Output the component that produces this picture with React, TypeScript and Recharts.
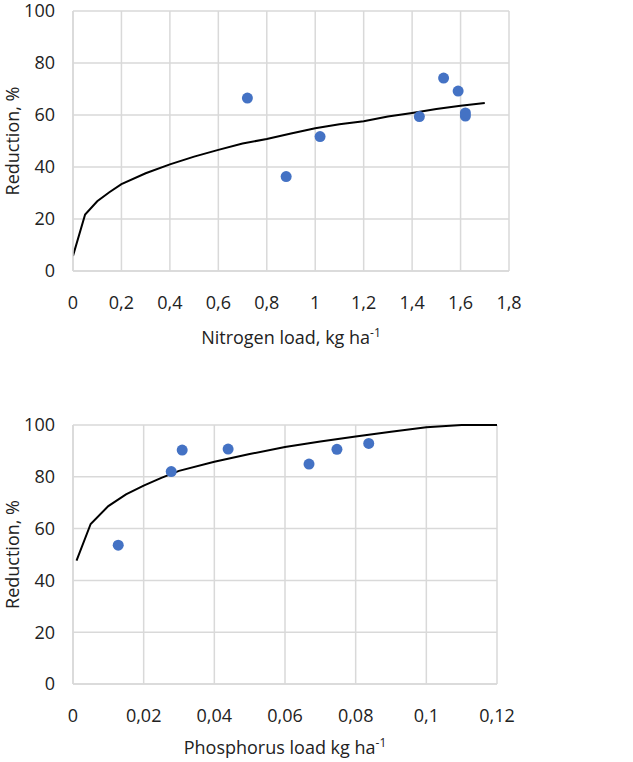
import React from 'react';
import { ComposedChart, Scatter, Line, XAxis, YAxis, CartesianGrid } from 'recharts';

const nitrogenLoad = [0.72, 0.88, 1.02, 1.43, 1.53, 1.59, 1.62, 1.62];
const nitrogenReduction = [66.5, 36.3, 51.7, 59.4, 74.2, 69.2, 59.6, 60.8];
const nitrogenFitLoad = [0, 0.05, 0.1, 0.15, 0.2, 0.3, 0.4, 0.5, 0.6, 0.7, 0.8, 0.9, 1.0, 1.1, 1.2, 1.3, 1.4, 1.5, 1.6, 1.7];
const nitrogenFit = [5.8, 21.7, 26.8, 30.3, 33.4, 37.6, 41, 44, 46.6, 49, 50.8, 52.9, 54.9, 56.4, 57.6, 59.4, 60.8, 62.3, 63.6, 64.6];
const nitrogenTicks = [0, 0.2, 0.4, 0.6, 0.8, 1, 1.2, 1.4, 1.6, 1.8];

const phosphorusLoad = [0.0128, 0.0278, 0.0309, 0.0439, 0.0668, 0.0747, 0.0837];
const phosphorusReduction = [53.6, 82, 90.3, 90.7, 84.9, 90.6, 92.9];
const phosphorusFitLoad = [0.001, 0.005, 0.01, 0.015, 0.02, 0.025, 0.03, 0.04, 0.05, 0.06, 0.07, 0.08, 0.09, 0.1, 0.11, 0.12];
const phosphorusFit = [47.6, 61.8, 68.7, 73.2, 76.6, 79.6, 82.3, 85.8, 88.8, 91.5, 93.6, 95.6, 97.4, 99.1, 100, 100];
const phosphorusTicks = [0, 0.02, 0.04, 0.06, 0.08, 0.1, 0.12];

const reductionTicks = [0, 20, 40, 60, 80, 100];

const FONT = '"Open Sans", sans-serif';
const GRID = '#d9d9d9';
const DOT = '#4472C4';
const TEXT = '#222222';
const FS = 18;

const comma = (v: number) => String(v).replace('.', ',');

const AxisTitle = ({ text, x, y }: { text: string; x: number; y: number }) => (
  <text x={x} y={y} textAnchor="middle" fontFamily={FONT} fontSize={FS} fill={TEXT}>
    <tspan>{text}</tspan>
    <tspan dy={-7} fontSize={12}>-1</tspan>
  </text>
);

const YTitle = ({ x, y }: { x: number; y: number }) => (
  <text
    x={x}
    y={y}
    transform={`rotate(-90, ${x}, ${y})`}
    textAnchor="middle"
    dominantBaseline="central"
    fontFamily={FONT}
    fontSize={FS}
    fill={TEXT}
  >
    Reduction, %
  </text>
);

interface PanelProps {
  load: number[];
  reduction: number[];
  fitLoad: number[];
  fit: number[];
  ticks: number[];
  xMax: number;
  width: number;
  height: number;
  margin: { top: number; right: number; bottom: number; left: number };
  axisHeight: number;
  title: string;
  titleY: number;
  tickGap: number;
}

const Panel: React.FC<PanelProps> = (p) => {
  const points = p.load.map((x, i) => ({ x, y: p.reduction[i] }));
  const curve = p.fitLoad.map((x, i) => ({ x, y: p.fit[i] }));
  const plotLeft = p.margin.left + 73;
  const plotRight = p.width - p.margin.right;
  const plotTop = p.margin.top;
  const plotBottom = p.height - p.margin.bottom - p.axisHeight;

  return (
    <ComposedChart width={p.width} height={p.height} margin={p.margin}>
      <CartesianGrid stroke={GRID} strokeWidth={1.5} />
      <XAxis
        type="number"
        dataKey="x"
        domain={[0, p.xMax]}
        ticks={p.ticks}
        allowDataOverflow
        tickFormatter={comma}
        axisLine={{ stroke: GRID, strokeWidth: 1.5 }}
        tickLine={false}
        tickMargin={p.tickGap}
        tick={{ fill: TEXT, fontSize: FS, fontFamily: FONT }}
        height={p.axisHeight}
        interval={0}
      />
      <YAxis
        type="number"
        dataKey="y"
        domain={[0, 100]}
        ticks={reductionTicks}
        axisLine={{ stroke: GRID, strokeWidth: 1.5 }}
        tickLine={false}
        tickMargin={12}
        tick={{ fill: TEXT, fontSize: FS, fontFamily: FONT }}
        width={73}
        interval={0}
      />
      <Line
        data={curve}
        dataKey="y"
        type="linear"
        stroke="#000"
        strokeWidth={2}
        dot={false}
        isAnimationActive={false}
      />
      <Scatter
        data={points}
        dataKey="y"
        fill={DOT}
        isAnimationActive={false}
        shape={(props: any) => <circle cx={props.cx} cy={props.cy} r={5.5} fill={DOT} />}
      />
      <AxisTitle text={p.title} x={(plotLeft + plotRight) / 2} y={p.titleY} />
      <YTitle x={12} y={(plotTop + plotBottom) / 2} />
    </ComposedChart>
  );
};

export default function App() {
  return (
    <div style={{ position: 'absolute', left: 0, top: 0, width: 633, height: 762, background: '#fff' }}>
      <Panel
        load={nitrogenLoad}
        reduction={nitrogenReduction}
        fitLoad={nitrogenFitLoad}
        fit={nitrogenFit}
        ticks={nitrogenTicks}
        xMax={1.8}
        width={633}
        height={380}
        margin={{ top: 11, right: 124, bottom: 10, left: 0 }}
        axisHeight={99}
        title="Nitrogen load, kg ha"
        titleY={344}
        tickGap={19}
      />
      <Panel
        load={phosphorusLoad}
        reduction={phosphorusReduction}
        fitLoad={phosphorusFitLoad}
        fit={phosphorusFit}
        ticks={phosphorusTicks}
        xMax={0.12}
        width={633}
        height={382}
        margin={{ top: 45, right: 136, bottom: 10, left: 0 }}
        axisHeight={68}
        title="Phosphorus load kg ha"
        titleY={374}
        tickGap={19}
      />
    </div>
  );
}
